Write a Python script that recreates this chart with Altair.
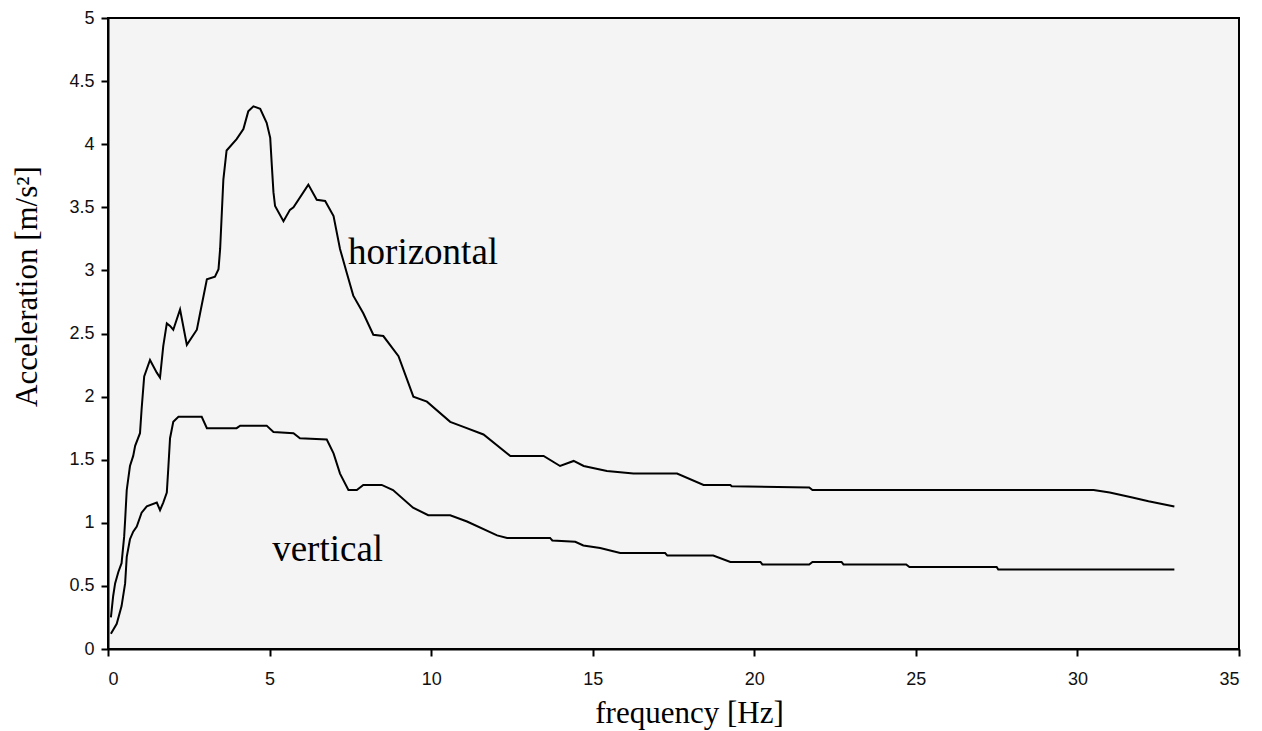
import altair as alt
import pandas as pd

# Horizontal response (frequency Hz, acceleration m/s^2)
h_freq = [0.09, 0.16, 0.22, 0.32, 0.42, 0.5, 0.53, 0.58, 0.68, 0.78, 0.84, 0.99, 1.04, 1.12, 1.3,
          1.51, 1.61, 1.71, 1.82, 1.92, 2.02, 2.23, 2.44, 2.75, 2.85, 3.06, 3.31, 3.42, 3.47, 3.57,
          3.67, 3.98, 4.19, 4.34, 4.5, 4.71, 4.91, 5.02, 5.07, 5.12, 5.17, 5.43, 5.63, 5.74, 6.2,
          6.46, 6.72, 6.98, 7.18, 7.39, 7.59, 7.9, 8.21, 8.52, 8.99, 9.45, 9.87, 10.59, 11.0, 11.62,
          12.45, 13.48, 13.99, 14.41, 14.72, 15.44, 16.26, 17.61, 18.43, 19.26, 19.3, 21.7, 21.8,
          30.5, 31.0, 31.7, 32.2, 33.0]
h_acc = [0.25, 0.42, 0.52, 0.61, 0.68, 0.89, 1.02, 1.26, 1.45, 1.53, 1.61, 1.71, 1.9, 2.16, 2.29,
         2.19, 2.15, 2.4, 2.58, 2.56, 2.53, 2.69, 2.41, 2.53, 2.66, 2.93, 2.95, 3.01, 3.17, 3.72,
         3.95, 4.04, 4.12, 4.26, 4.3, 4.28, 4.17, 4.05, 3.83, 3.62, 3.51, 3.39, 3.48, 3.5, 3.68,
         3.56, 3.55, 3.43, 3.17, 2.98, 2.8, 2.66, 2.49, 2.48, 2.32, 2.0, 1.96, 1.8, 1.76, 1.7,
         1.53, 1.53, 1.45, 1.49, 1.45, 1.41, 1.39, 1.39, 1.3, 1.3, 1.29, 1.28, 1.26,
         1.26, 1.24, 1.2, 1.17, 1.13]

# Vertical response
v_freq = [0.09, 0.27, 0.42, 0.53, 0.58, 0.68, 0.78, 0.89, 1.04, 1.2, 1.51, 1.61, 1.71, 1.82, 1.87,
          1.92, 2.02, 2.18, 2.9, 3.06, 3.98, 4.09, 4.91, 5.12, 5.74, 5.94, 6.77, 6.98, 7.18, 7.44,
          7.7, 7.9, 8.47, 8.82, 9.44, 9.91, 10.59, 11.11, 12.04, 12.35, 13.68, 13.75, 14.46, 14.71,
          15.23, 15.85, 17.24, 17.31, 18.73, 19.26, 20.19, 20.25, 21.7, 21.8, 22.7, 22.76, 24.7,
          24.8, 27.5, 27.55, 33.0]
v_acc = [0.12, 0.2, 0.34, 0.52, 0.73, 0.87, 0.93, 0.97, 1.08, 1.13, 1.16, 1.1, 1.16, 1.24, 1.45,
         1.67, 1.8, 1.84, 1.84, 1.75, 1.75, 1.77, 1.77, 1.72, 1.71, 1.67, 1.66, 1.55, 1.39, 1.26,
         1.26, 1.3, 1.3, 1.26, 1.12, 1.06, 1.06, 1.01, 0.9, 0.88, 0.88, 0.86, 0.85, 0.82,
         0.8, 0.76, 0.76, 0.74, 0.74, 0.69, 0.69, 0.67, 0.67, 0.69, 0.69, 0.67, 0.67,
         0.65, 0.65, 0.63, 0.63]

label_text = ["horizontal", "vertical"]
label_x = [7.43, 5.08]
label_y = [3.05, 0.70]

x_ticks = [0, 5, 10, 15, 20, 25, 30, 35]
y_ticks = [0, 0.5, 1, 1.5, 2, 2.5, 3, 3.5, 4, 4.5, 5]

df = pd.concat([
    pd.DataFrame({"freq": h_freq, "acc": h_acc, "series": "horizontal", "order": range(len(h_freq))}),
    pd.DataFrame({"freq": v_freq, "acc": v_acc, "series": "vertical", "order": range(len(v_freq))}),
])
labels = pd.DataFrame({"text": label_text, "x": label_x, "y": label_y})

W, H = 1131, 631

xscale = alt.Scale(domain=[0, 35], nice=False, zero=False)
yscale = alt.Scale(domain=[0, 5], nice=False, zero=False)

lines = alt.Chart(df).mark_line(color="black", strokeWidth=2, interpolate="linear").encode(
    x=alt.X("freq:Q", scale=xscale,
            axis=alt.Axis(title="frequency [Hz]", values=x_ticks, format="~g",
                          titleX=581, titleY=73, titleAlign="center",
                          titleBaseline="alphabetic", labelPadding=14)),
    y=alt.Y("acc:Q", scale=yscale,
            axis=alt.Axis(title="Acceleration [m/s²]", values=y_ticks, format="~g",
                          titleX=-81, titleY=268, titleAngle=270, titleAlign="center",
                          titleBaseline="middle", labelPadding=7)),
    detail="series:N",
    order="order:Q",
)

text = alt.Chart(labels).mark_text(
    font="Liberation Serif", fontSize=37, align="left", baseline="alphabetic", color="black"
).encode(
    x=alt.X("x:Q", scale=xscale),
    y=alt.Y("y:Q", scale=yscale),
    text="text:N",
)

chart = (lines + text).properties(
    width=W, height=H,
    autosize="none",
    padding={"left": 108, "top": 18, "right": 23, "bottom": 82},
    background="white",
).configure_view(
    fill="#f4f4f4", stroke="black", strokeWidth=2
).configure_axis(
    grid=False,
    domainColor="black", domainWidth=2,
    tickColor="black", tickWidth=2, tickSize=7,
    labelFont="Liberation Sans", labelFontSize=18, labelColor="#111",
    titleFont="Liberation Serif", titleFontSize=31, titleColor="black", titleFontWeight="normal",
)

chart.save("out.html", embed_options={"renderer": "svg", "actions": False})
